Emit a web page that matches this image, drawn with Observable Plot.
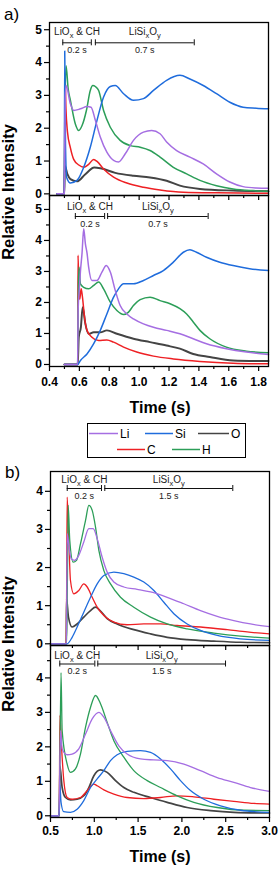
<!DOCTYPE html>
<html>
<head>
<meta charset="utf-8">
<script src="https://cdn.jsdelivr.net/npm/d3@7"></script>
<script src="https://cdn.jsdelivr.net/npm/@observablehq/plot@0.6"></script>
<style>
  body { margin: 0; background: #fff; }
  #fig { position: relative; width: 280px; height: 869px; background: #fff; overflow: hidden;
         font-family: "Liberation Sans", Arial, sans-serif; }
  #fig svg { position: absolute; left: 0; }
</style>
</head>
<body>
<div id="fig"></div>
<script>
// ---- species and colours ----
const species = ["O", "C", "H", "Si", "Li"];            // drawing order
const colors = { Li: "#a56ee2", Si: "#1f6cdc", O: "#444444", C: "#ee2024", H: "#2c9e58" };

// ---- panel a, upper run: [time (s), relative intensity] ----
const a1Li = [[0.45,0],[0.499,0],[0.505,2.9],[0.511,3.3],[0.54,2.74],[0.562,2.54],[0.607,2.59],[0.651,2.66],[0.678,2.64],[0.707,2.24],[0.74,1.73],[0.784,1.27],[0.829,1.02],[0.862,0.97],[0.907,1.22],[0.962,1.63],[1.029,1.88],[1.084,1.93],[1.14,1.83],[1.184,1.58],[1.251,1.32],[1.34,1.12],[1.429,0.91],[1.518,0.61],[1.607,0.36],[1.696,0.22],[1.784,0.18],[1.866,0.17]];
const a1Si = [[0.45,0],[0.499,0],[0.502,4.35],[0.507,1.5],[0.515,0.5],[0.54,0.33],[0.584,0.41],[0.629,0.81],[0.673,1.42],[0.718,2.24],[0.762,2.95],[0.807,3.27],[0.84,3.3],[0.896,3.05],[0.962,2.85],[1.029,2.9],[1.096,3.15],[1.184,3.46],[1.273,3.61],[1.34,3.5],[1.429,3.3],[1.518,3.05],[1.607,2.79],[1.696,2.64],[1.784,2.61],[1.866,2.59]];
const a1H  = [[0.45,0],[0.499,0],[0.503,2.5],[0.511,3.9],[0.525,3.2],[0.54,2.85],[0.573,2.13],[0.596,1.93],[0.618,2.08],[0.647,2.54],[0.673,3.15],[0.69,3.3],[0.707,3.27],[0.729,3.15],[0.762,2.54],[0.807,2.03],[0.873,1.63],[0.94,1.47],[1.007,1.42],[1.073,1.32],[1.14,1.12],[1.229,0.81],[1.318,0.61],[1.407,0.41],[1.518,0.25],[1.629,0.15],[1.762,0.1],[1.866,0.08]];
const a1C  = [[0.45,0],[0.499,0],[0.504,3.6],[0.51,2.6],[0.52,1.9],[0.54,1.4],[0.562,1.05],[0.596,0.88],[0.629,0.81],[0.662,0.9],[0.696,1.05],[0.72,0.98],[0.762,0.76],[0.829,0.51],[0.918,0.33],[1.029,0.2],[1.14,0.12],[1.296,0.05],[1.518,0.03],[1.866,0.02]];
const a1O  = [[0.45,0],[0.499,0],[0.503,0.85],[0.52,0.6],[0.54,0.45],[0.584,0.38],[0.64,0.6],[0.7,0.8],[0.74,0.78],[0.84,0.64],[0.962,0.55],[1.073,0.5],[1.184,0.4],[1.273,0.25],[1.407,0.15],[1.629,0.1],[1.866,0.08]];

// ---- panel a, lower run ----
const a2Li = [[0.5,0],[0.588,0],[0.592,1.8],[0.598,2.3],[0.607,3.0],[0.618,3.6],[0.629,4.38],[0.64,3.9],[0.651,3.6],[0.662,3.14],[0.684,2.71],[0.718,2.71],[0.751,2.98],[0.78,3.19],[0.807,2.98],[0.84,2.39],[0.873,1.9],[0.918,1.63],[0.962,1.47],[1.029,1.31],[1.096,1.2],[1.184,1.1],[1.273,0.99],[1.362,0.83],[1.451,0.67],[1.584,0.51],[1.718,0.4],[1.866,0.32]];
const a2Si = [[0.5,0],[0.589,0],[0.607,0.13],[0.651,0.34],[0.696,0.67],[0.74,1.1],[0.784,1.63],[0.829,2.17],[0.862,2.44],[0.896,2.6],[0.962,2.6],[1.029,2.71],[1.096,2.87],[1.162,3.03],[1.229,3.3],[1.296,3.62],[1.34,3.7],[1.384,3.62],[1.451,3.46],[1.54,3.3],[1.629,3.19],[1.74,3.09],[1.866,3.03]];
const a2H  = [[0.5,0],[0.588,0],[0.594,2.6],[0.598,3.14],[0.607,2.6],[0.629,2.49],[0.662,2.44],[0.696,2.55],[0.729,2.66],[0.762,2.44],[0.807,2.01],[0.851,1.74],[0.896,1.61],[0.929,1.69],[0.962,1.9],[1.007,2.09],[1.073,2.17],[1.14,2.06],[1.207,1.96],[1.273,1.8],[1.318,1.63],[1.362,1.37],[1.407,1.1],[1.473,0.83],[1.584,0.56],[1.718,0.43],[1.866,0.38]];
const a2C  = [[0.5,0],[0.589,0],[0.591,3.52],[0.596,2.5],[0.602,2.1],[0.612,2.44],[0.62,2.2],[0.635,1.5],[0.651,1.1],[0.684,0.88],[0.729,0.77],[0.784,0.79],[0.829,0.72],[0.896,0.56],[0.984,0.4],[1.096,0.27],[1.229,0.18],[1.407,0.1],[1.629,0.04],[1.866,0.02]];
const a2O  = [[0.5,0],[0.589,0],[0.596,0.88],[0.61,1.2],[0.622,1.85],[0.64,1.31],[0.662,0.99],[0.696,1.04],[0.74,1.04],[0.784,1.1],[0.851,0.99],[0.962,0.83],[1.073,0.72],[1.184,0.61],[1.273,0.51],[1.362,0.34],[1.473,0.24],[1.629,0.13],[1.866,0.11]];

// ---- panel b, upper run ----
const b1Li = [[0.5,0],[0.683,0],[0.69,2.89],[0.709,2.58],[0.736,2.23],[0.774,2.19],[0.823,2.32],[0.88,2.67],[0.938,3.02],[0.987,3.02],[1.033,2.76],[1.09,2.27],[1.147,1.88],[1.223,1.62],[1.337,1.49],[1.489,1.43],[1.642,1.36],[1.832,1.22],[2.022,1.05],[2.212,0.87],[2.403,0.72],[2.593,0.61],[2.783,0.52],[3.0,0.45]];
const b1Si = [[0.5,0],[0.69,0],[0.747,0.17],[0.804,0.44],[0.88,0.83],[0.957,1.22],[1.033,1.57],[1.109,1.79],[1.223,1.88],[1.337,1.84],[1.451,1.75],[1.565,1.62],[1.68,1.4],[1.794,1.09],[1.908,0.79],[2.06,0.52],[2.212,0.35],[2.403,0.22],[2.669,0.13],[3.0,0.09]];
const b1H  = [[0.5,0],[0.685,0],[0.702,3.63],[0.72,2.71],[0.759,2.14],[0.797,2.19],[0.842,2.62],[0.9,3.24],[0.938,3.63],[0.976,3.5],[1.014,3.06],[1.052,2.45],[1.109,1.92],[1.185,1.57],[1.299,1.22],[1.451,0.96],[1.642,0.7],[1.832,0.52],[2.06,0.39],[2.365,0.28],[2.669,0.2],[3.0,0.15]];
const b1C  = [[0.5,0],[0.68,0],[0.69,3.85],[0.709,2.71],[0.728,1.66],[0.766,1.31],[0.823,1.4],[0.88,1.57],[0.919,1.49],[0.976,1.22],[1.033,0.96],[1.109,0.74],[1.223,0.57],[1.375,0.5],[1.565,0.52],[1.756,0.52],[1.946,0.48],[2.212,0.44],[2.517,0.37],[2.745,0.31],[3.0,0.26]];
const b1O  = [[0.5,0],[0.68,0],[0.683,1.18],[0.705,0.7],[0.747,0.44],[0.804,0.52],[0.88,0.7],[0.957,0.87],[1.014,0.96],[1.071,0.86],[1.147,0.66],[1.261,0.52],[1.451,0.37],[1.642,0.26],[1.832,0.17],[2.06,0.11],[2.365,0.07],[2.669,0.04],[3.0,0.03]];

// ---- panel b, lower run ----
const b2Li = [[0.5,0],[0.598,0],[0.614,2.47],[0.633,1.94],[0.69,1.77],[0.747,1.79],[0.823,1.94],[0.9,2.37],[0.976,2.81],[1.052,3.0],[1.109,2.86],[1.185,2.47],[1.28,2.03],[1.375,1.79],[1.527,1.65],[1.68,1.62],[1.832,1.6],[2.022,1.5],[2.212,1.31],[2.403,1.11],[2.593,0.97],[2.783,0.82],[3.0,0.71]];
const b2Si = [[0.5,0],[0.598,0],[0.607,0.9],[0.62,0.4],[0.65,0.12],[0.728,0.1],[0.804,0.19],[0.88,0.44],[0.957,0.82],[1.033,1.07],[1.109,1.31],[1.185,1.6],[1.261,1.77],[1.375,1.87],[1.527,1.89],[1.642,1.84],[1.756,1.65],[1.87,1.36],[1.984,1.02],[2.098,0.73],[2.25,0.48],[2.441,0.29],[2.669,0.16],[3.0,0.1]];
const b2H  = [[0.5,0],[0.6,0],[0.62,4.15],[0.633,2.47],[0.69,1.5],[0.728,1.26],[0.785,1.36],[0.842,1.79],[0.9,2.57],[0.957,3.15],[1.014,3.49],[1.071,3.25],[1.147,2.71],[1.223,2.18],[1.337,1.7],[1.451,1.31],[1.604,1.02],[1.756,0.82],[1.946,0.58],[2.136,0.39],[2.403,0.24],[2.707,0.16],[3.0,0.15]];
const b2C  = [[0.5,0],[0.6,0],[0.607,2.91],[0.626,1.99],[0.652,1.02],[0.69,0.53],[0.747,0.48],[0.842,0.53],[0.919,0.73],[0.995,0.92],[1.033,0.87],[1.109,0.75],[1.223,0.63],[1.375,0.53],[1.565,0.5],[1.756,0.53],[1.946,0.58],[2.136,0.55],[2.365,0.48],[2.593,0.42],[2.821,0.36],[3.0,0.34]];
const b2O  = [[0.5,0],[0.6,0],[0.607,1.45],[0.633,0.82],[0.671,0.53],[0.728,0.46],[0.804,0.48],[0.88,0.58],[0.938,0.82],[0.995,1.16],[1.071,1.33],[1.147,1.26],[1.242,1.02],[1.337,0.82],[1.451,0.68],[1.642,0.53],[1.832,0.39],[2.06,0.24],[2.327,0.15],[2.593,0.1],[3.0,0.08]];

// ---- ticks ----
const aTicksMajor = [0.4, 0.6, 0.8, 1.0, 1.2, 1.4, 1.6, 1.8];
const aTicksMinor = [0.5, 0.7, 0.9, 1.1, 1.3, 1.5, 1.7];
const bTicksMajor = [0.5, 1.0, 1.5, 2.0, 2.5, 3.0];
const bTicksMinor = [0.75, 1.25, 1.75, 2.25, 2.75];
const yTicksA = [0, 1, 2, 3, 4, 5];
const yTicksB = [0, 1, 2, 3, 4];
const yMinorA = [0.5, 1.5, 2.5, 3.5, 4.5];
const yMinorB = [0.5, 1.5, 2.5, 3.5, 4.5];

// ---- phase brackets: [start, end] in s, with their labels ----
const a1Brackets = [[0.489, 0.68], [0.707, 1.369]];
const a2Brackets = [[0.573, 0.769], [0.789, 1.462]];
const b1Brackets = [[0.691, 1.082], [1.12, 2.581]];
const b2Brackets = [[0.606, 1.006], [1.04, 2.498]];
const phaseNames = ["LiO_x & CH", "LiSi_xO_y"];
const aDurations = ["0.2 s", "0.7 s"];
const bDurations = ["0.2 s", "1.5 s"];

const FONT = '"Liberation Sans", Arial, sans-serif';
const fig = document.getElementById("fig");

function rows(pts) { return pts.map(([t, v]) => ({ t, v })); }

function subplot(cfg) {
  const { series, xDomain, yDomain, top, height, marginTop, marginBottom, marginLeft, marginRight,
          xMajor, xMinor, yMajor, yMinor, xLabels, tickPadX, brackets, durations, offs, lw } = cfg;
  const frameH = height - marginTop - marginBottom;
  const dpp = (yDomain[1] - yDomain[0]) / frameH;
  const yAt = (px) => yDomain[1] - px * dpp;
  const yLine = yAt(offs[1]);
  const caps = brackets.flat();
  const upper = brackets.map((b, i) => ({ x: (b[0] + b[1]) / 2, text: phaseNames[i] }));
  const lower = brackets.map((b, i) => ({ x: (b[0] + b[1]) / 2, text: durations[i] }));

  const lineMarks = species.map((s) =>
    Plot.line(rows(series[s]), {
      x: "t", y: "v", stroke: colors[s], curve: "monotone-x",
      strokeWidth: s === "O" ? lw * 1.3 : lw, strokeLinejoin: "round"
    })
  );

  const chart = Plot.plot({
    width: 280, height, marginTop, marginBottom, marginLeft, marginRight,
    style: { background: "transparent", overflow: "visible", fontFamily: FONT, color: "#000" },
    x: { domain: xDomain, label: null },
    y: { domain: yDomain, label: null },
    marks: [
      ...lineMarks,
      Plot.axisY({ ticks: yMajor, tickSize: 5, tickPadding: 2.5, tickFormat: d3.format("d"),
                   fontSize: 12, fontWeight: "bold", label: null, strokeWidth: 1.2 }),
      Plot.axisY({ ticks: yMinor, tickSize: 3, tickFormat: () => "", label: null, strokeWidth: 1.2 }),
      Plot.axisX({ ticks: xMajor, tickSize: 5, tickPadding: tickPadX,
                   tickFormat: xLabels ? d3.format(".1f") : () => "",
                   fontSize: 12, fontWeight: "bold", label: null, strokeWidth: 1.2 }),
      Plot.axisX({ ticks: xMinor, tickSize: 3, tickFormat: () => "", label: null, strokeWidth: 1.2 }),
      Plot.frame({ stroke: "#000", strokeWidth: 1.3 }),
      Plot.ruleY(brackets, { x1: (d) => d[0], x2: (d) => d[1], y: () => yLine, stroke: "#111", strokeWidth: 1 }),
      Plot.ruleX(caps, { x: (d) => d, y1: () => yLine - 3 * dpp, y2: () => yLine + 3 * dpp, stroke: "#111", strokeWidth: 1 }),
      Plot.text(upper, { x: "x", y: () => yAt(offs[0]), text: "text", fontSize: 10, fontWeight: "normal",
                         fill: "#222", lineAnchor: "middle" }),
      Plot.text(lower, { x: "x", y: () => yAt(offs[2]), text: "text", fontSize: 9, fontWeight: "normal",
                         fill: "#222", lineAnchor: "middle" })
    ]
  });
  chart.style.top = top + "px";
  // chemical subscripts in the phase names
  d3.select(chart).selectAll("text").each(function () {
    const s = this.textContent;
    if (!s.includes("_")) return;
    const parts = s.split(/(_.)/).filter((p) => p);
    this.textContent = "";
    let shifted = false;
    for (const p of parts) {
      const ts = d3.select(this).append("tspan");
      if (p[0] === "_") { ts.text(p[1]).attr("font-size", 7.5).attr("dy", 2.5); shifted = true; }
      else { ts.text(p); if (shifted) { ts.attr("dy", -2.5); shifted = false; } }
    }
  });
  fig.appendChild(chart);
}

subplot({ series: { Li: a1Li, Si: a1Si, O: a1O, C: a1C, H: a1H },
  xDomain: [0.4, 1.866], yDomain: [-0.05, 5.22], top: 0, height: 195, marginTop: 22, marginBottom: 0,
  marginLeft: 49, marginRight: 12, xMajor: aTicksMajor, xMinor: aTicksMinor, yMajor: yTicksA, yMinor: yMinorA,
  xLabels: false, tickPadX: 6, brackets: a1Brackets, durations: aDurations, offs: [9.7, 20.3, 27.3], lw: 1.5 });

subplot({ series: { Li: a2Li, Si: a2Si, O: a2O, C: a2C, H: a2H },
  xDomain: [0.4, 1.866], yDomain: [-0.065, 5.45], top: 195, height: 221, marginTop: 0, marginBottom: 50,
  marginLeft: 49, marginRight: 12, xMajor: aTicksMajor, xMinor: aTicksMinor, yMajor: yTicksA, yMinor: yMinorA,
  xLabels: true, tickPadX: 6, brackets: a2Brackets, durations: aDurations, offs: [11.7, 21, 28.3], lw: 1.5 });

subplot({ series: { Li: b1Li, Si: b1Si, O: b1O, C: b1C, H: b1H },
  xDomain: [0.5, 3.0], yDomain: [-0.045, 4.52], top: 460, height: 185, marginTop: 11, marginBottom: 0,
  marginLeft: 50, marginRight: 11, xMajor: bTicksMajor, xMinor: bTicksMinor, yMajor: yTicksB, yMinor: yMinorB.slice(0, 4),
  xLabels: false, tickPadX: 3, brackets: b1Brackets, durations: bDurations, offs: [8.5, 17, 25], lw: 1.3 });

subplot({ series: { Li: b2Li, Si: b2Si, O: b2O, C: b2C, H: b2H },
  xDomain: [0.5, 3.0], yDomain: [-0.05, 4.94], top: 645, height: 224, marginTop: 0, marginBottom: 52,
  marginLeft: 50, marginRight: 11, xMajor: bTicksMajor, xMinor: bTicksMinor, yMajor: yTicksB, yMinor: yMinorB,
  xLabels: true, tickPadX: 4, brackets: b2Brackets, durations: bDurations, offs: [10.5, 18.5, 26], lw: 1.3 });

// ---- panel letters, axis titles and legend ----
const over = d3.select(fig).append("svg")
  .attr("width", 280).attr("height", 869).style("top", "0px").style("pointer-events", "none")
  .style("font-family", FONT);

over.append("text").attr("x", 4).attr("y", 19.5).attr("font-size", 17).text("a)");
over.append("text").attr("x", 5).attr("y", 477.5).attr("font-size", 17).text("b)");

for (const cy of [192, 644]) {
  over.append("text").attr("transform", `translate(14,${cy}) rotate(-90)`)
    .attr("text-anchor", "middle").attr("font-size", 16.5).attr("font-weight", "bold").text("Relative Intensity");
}
for (const y of [413, 862]) {
  over.append("text").attr("x", 160).attr("y", y).attr("text-anchor", "middle")
    .attr("font-size", 16).attr("font-weight", "bold").text("Time (s)");
}

const legendItems = [
  { s: "Li", x: 89, row: 0 }, { s: "Si", x: 145, row: 0 }, { s: "O", x: 198, row: 0 },
  { s: "C", x: 117, row: 1 }, { s: "H", x: 172, row: 1 }
];
const lineLen = { Li: 29, Si: 28, O: 31, C: 28, H: 28 };
const lg = over.append("g");
lg.append("rect").attr("x", 87.5).attr("y", 423.5).attr("width", 158).attr("height", 34)
  .attr("fill", "none").attr("stroke", "#000").attr("stroke-width", 1);
for (const it of legendItems) {
  const y = 433.5 + it.row * 16;
  lg.append("line").attr("x1", it.x).attr("x2", it.x + lineLen[it.s]).attr("y1", y).attr("y2", y)
    .attr("stroke", colors[it.s]).attr("stroke-width", 1.5);
  lg.append("text").attr("x", it.x + lineLen[it.s] + 2).attr("y", y + 4.3).attr("font-size", 12).text(it.s);
}
</script>
</body>
</html>
